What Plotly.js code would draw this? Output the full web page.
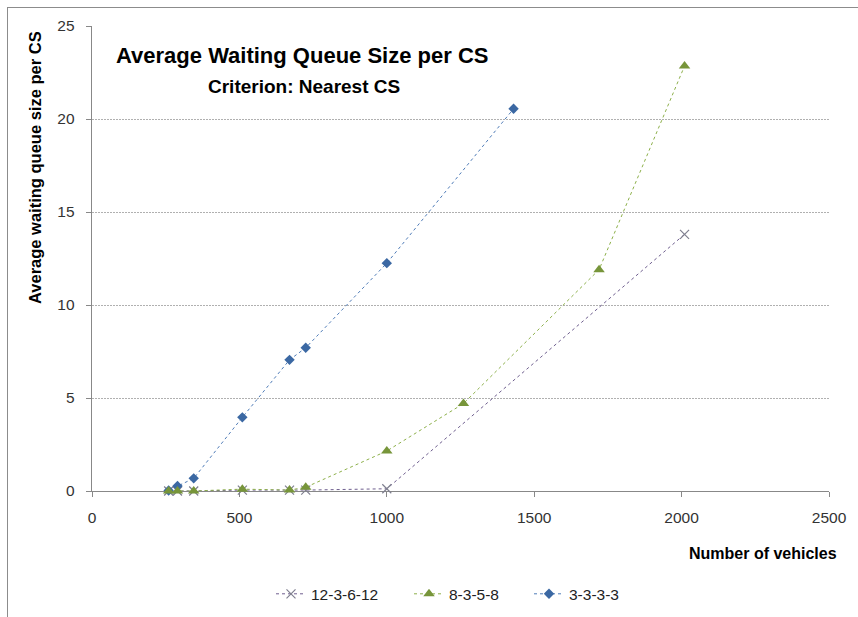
<!DOCTYPE html>
<html>
<head>
<meta charset="utf-8">
<script src="https://cdn.plot.ly/plotly-3.0.1.min.js"></script>
<style>
  html, body { margin: 0; padding: 0; background: #fff; }
  #wrap { position: relative; width: 858px; height: 617px; overflow: hidden; }
  #chart { width: 858px; height: 617px; }
  #frame { position: absolute; left: 7px; top: 7px; width: 900px; height: 700px;
           border: 1.5px solid #8c8c8c; pointer-events: none; }
</style>
</head>
<body>
<div id="wrap">
  <div id="chart"></div>
  <div id="frame"></div>
</div>
<script>
// ---- data ----
const seriesNames = ["12-3-6-12", "8-3-5-8", "3-3-3-3"];

const x_12_3_6_12 = [260, 290, 345, 510, 670, 725, 1000, 2010];
const y_12_3_6_12 = [0, 0, 0, 0.05, 0.05, 0.05, 0.12, 13.8];

const x_8_3_5_8 = [260, 290, 345, 510, 670, 725, 1000, 1260, 1720, 2010];
const y_8_3_5_8 = [0, 0, 0, 0.1, 0.05, 0.2, 2.15, 4.7, 11.9, 22.85];

const x_3_3_3_3 = [260, 290, 345, 510, 670, 725, 1000, 1430];
const y_3_3_3_3 = [0.03, 0.27, 0.68, 3.96, 7.05, 7.7, 12.25, 20.55];

const xTicks = [0, 500, 1000, 1500, 2000, 2500];
const yTicks = [0, 5, 10, 15, 20, 25];

const FONT = "'Liberation Sans', Arial, sans-serif";

// drawing order: gray, blue, green (green triangles on top); legend order kept by legendrank
const traces = [
  {
    x: x_12_3_6_12, y: y_12_3_6_12, name: seriesNames[0], legendrank: 1,
    type: "scatter", mode: "lines+markers", legendwidth: 93, cliponaxis: false,
    line: { color: "#6f5f8f", width: 1, dash: "dot" },
    marker: { symbol: "x-thin-open", size: 9, color: "#7f7f8f", line: { color: "#7f7f8f", width: 1.2 } }
  },
  {
    x: x_3_3_3_3, y: y_3_3_3_3, name: seriesNames[2], legendrank: 3,
    type: "scatter", mode: "lines+markers", legendwidth: 60, cliponaxis: false,
    line: { color: "#4f7cb8", width: 1, dash: "dot" },
    marker: { symbol: "diamond", size: 8, color: "#3b68a3" }
  },
  {
    x: x_8_3_5_8, y: y_8_3_5_8, name: seriesNames[1], legendrank: 2,
    type: "scatter", mode: "lines+markers", legendwidth: 75, cliponaxis: false,
    line: { color: "#8db04a", width: 1, dash: "dot" },
    marker: { symbol: "triangle-up", size: 10, color: "#77953a" }
  }
];

const layout = {
  width: 858, height: 617,
  margin: { l: 92, r: 29, t: 26, b: 126, autoexpand: false },
  paper_bgcolor: "#ffffff",
  plot_bgcolor: "#ffffff",
  showlegend: true,
  legend: {
    orientation: "h", x: (271 - 92) / 737, xanchor: "left", y: -0.222, yanchor: "middle",
    font: { family: FONT, size: 15.5, color: "#222" },
    tracegroupgap: 0, traceorder: "normal"
  },
  xaxis: {
    range: [0, 2500], tickvals: xTicks, ticktext: xTicks.map(String),
    showgrid: false, zeroline: false,
    showline: true, linecolor: "#888888", linewidth: 1.3,
    ticks: "outside", ticklen: 5, tickcolor: "#888888",
    ticklabelstandoff: 7, layer: "below traces",
    tickfont: { family: FONT, size: 15.5, color: "#333" },
    fixedrange: true
  },
  yaxis: {
    range: [0, 25], tickvals: yTicks, ticktext: yTicks.map(String),
    showgrid: true, gridcolor: "#b0b0b0", griddash: "2px,1px", gridwidth: 1,
    zeroline: false,
    showline: true, linecolor: "#888888", linewidth: 1.3,
    ticks: "outside", ticklen: 5, tickcolor: "#888888",
    ticklabelstandoff: 8, layer: "below traces",
    tickfont: { family: FONT, size: 15.5, color: "#333" },
    fixedrange: true
  },
  annotations: [
    { text: "<b>Average Waiting Queue Size per CS</b>", xref: "paper", yref: "paper",
      x: (114 - 92) / 737, y: (491 - 55) / 465, xanchor: "left", yanchor: "middle",
      showarrow: false, font: { family: FONT, size: 22, color: "#000" } },
    { text: "<b>Criterion: Nearest CS</b>", xref: "paper", yref: "paper",
      x: (206 - 92) / 737, y: (491 - 86) / 465, xanchor: "left", yanchor: "middle",
      showarrow: false, font: { family: FONT, size: 19, color: "#000" } },
    { text: "<b>Number of vehicles</b>", xref: "paper", yref: "paper",
      x: (839 - 92) / 737, y: (491 - 553) / 465, xanchor: "right", yanchor: "middle",
      showarrow: false, font: { family: FONT, size: 16, color: "#000" } },
    { text: "<b>Average waiting queue size per CS</b>", xref: "paper", yref: "paper",
      x: (35 - 92) / 737, y: (491 - 168) / 465, xanchor: "center", yanchor: "middle",
      textangle: -90,
      showarrow: false, font: { family: FONT, size: 16.5, color: "#000" } }
  ]
};

Plotly.newPlot("chart", traces, layout, { displayModeBar: false, staticPlot: true });
</script>
</body>
</html>
